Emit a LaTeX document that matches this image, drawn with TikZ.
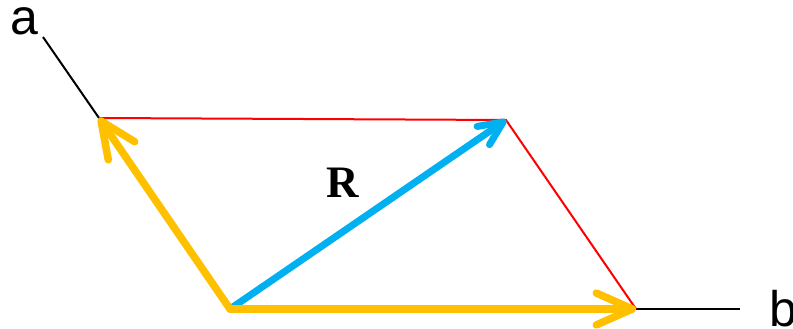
\documentclass[tikz,border=0pt]{standalone}
\usepackage{fontspec}
\setmainfont{Liberation Serif}
\setsansfont{Liberation Sans}
\usetikzlibrary{arrows.meta}
\definecolor{vyellow}{HTML}{FFC000}
\definecolor{vblue}{HTML}{00B0F0}
\definecolor{vred}{HTML}{FF0000}
\begin{document}
\begin{tikzpicture}[x=1pt,y=1pt,
  yvec/.style={draw=vyellow, line width=7.5pt, line cap=round,
    -{Straight Barb[length=36pt,width=32pt,line width=7.5pt,round]}},
  bvec/.style={draw=vblue, line width=7pt, line cap=round,
    -{Straight Barb[length=24pt,width=22pt,line width=7pt,round]}},
  redline/.style={draw=vred, line width=2pt},
  axisline/.style={draw=black, line width=2pt},
  lbl/.style={font=\sffamily\fontsize{50}{50}\selectfont, inner sep=0pt}]
\useasboundingbox (0,0) rectangle (793,329);
\coordinate (O) at (230,20);
\coordinate (A) at (99,211);
\coordinate (B) at (636,20);
\coordinate (P) at (506,209);
\coordinate (aend) at (43,292);
\coordinate (bend) at (740,20);
\draw[axisline] (A) -- (aend);
\draw[axisline] (B) -- (bend);
\draw[redline] (A) -- (P) -- (B);
\draw[bvec] (O) -- (P);
\draw[yvec] (O) -- (A);
\draw[yvec] (O) -- (B);
\node[lbl, anchor=base] (la) at (24.5,294) {a};
\node[lbl, anchor=base west] (lb) at (769,2) {b};
\node[font=\bfseries\fontsize{45}{45}\selectfont, inner sep=0pt] (R) at (343,146) {R};
\end{tikzpicture}
\end{document}
